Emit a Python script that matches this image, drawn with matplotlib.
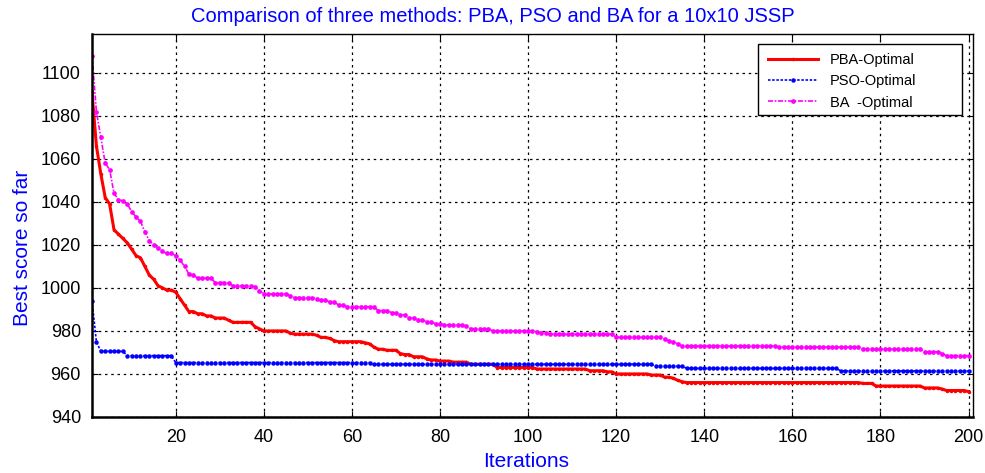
import numpy as np
import matplotlib.pyplot as plt
from matplotlib.patches import Rectangle

# --- DATA (step change points: iteration -> best score) ---
ITERATIONS = np.arange(1, 201)

pba_change_iter = [1, 2, 3, 4, 5, 6, 7, 8, 9, 10, 11, 12, 13, 14, 15, 16, 17, 18, 20, 21,
                   22, 23, 25, 27, 29, 32, 33, 38, 39, 40, 46, 47, 52, 53, 55, 56, 57, 63,
                   64, 65, 66, 68, 71, 72, 74, 77, 78, 80, 83, 87, 93, 102, 114, 118, 120,
                   128, 131, 133, 134, 135, 136, 176, 179, 190, 194, 195, 200]
pba_change_val = [1091, 1066, 1053, 1042, 1039, 1027, 1025, 1023, 1021, 1018, 1015, 1014,
                  1010, 1006, 1004, 1001, 1000, 999, 998, 995, 992, 989, 988, 987, 986,
                  985, 984, 982, 981, 980, 979, 978.5, 978, 977, 976.5, 975.5, 975, 974.5,
                  974, 972.5, 971.5, 971, 969.5, 969, 968, 967, 966.5, 966, 965.5, 964.5,
                  963, 962.3, 961.5, 961, 960, 959.5, 958.5, 958, 957, 956.4, 956, 955.6,
                  954.4, 953.5, 953, 952.3, 951.8]

pso_change_iter = [1, 2, 3, 9, 20, 65, 129, 136, 171]
pso_change_val = [994, 975, 970.5, 968.5, 965.3, 964.5, 963.6, 962.6, 961.4]

ba_change_iter = [1, 2, 3, 4, 5, 6, 7, 8, 9, 10, 11, 12, 13, 14, 15, 16, 17, 18, 20, 21,
                  22, 23, 24, 25, 28, 29, 32, 33, 38, 39, 40, 46, 47, 52, 53, 55, 57, 59,
                  65, 66, 69, 71, 73, 75, 77, 79, 81, 86, 87, 92, 102, 103, 105, 120, 131,
                  132, 133, 134, 135, 157, 176, 190, 194, 195]
ba_change_val = [1108, 1082, 1070, 1058, 1055, 1044, 1041, 1040.5, 1039, 1035.5, 1033,
                 1031, 1026, 1022, 1020, 1018.5, 1017, 1016, 1015, 1013, 1010, 1006.5,
                 1006, 1004.5, 1004.5, 1002.5, 1002.2, 1001, 1000.6, 998.7, 997.2, 996.4,
                 995.5, 995, 994.2, 993.5, 992, 991.3, 991, 989.5, 988.5, 987.5, 986,
                 985, 984.3, 983.3, 982.8, 982.3, 981, 980, 979.7, 979.2, 978.5, 977,
                 976.2, 975.5, 975, 974, 973, 972.5, 971.5, 970.3, 969.5, 968.5]

SERIES_LABELS = ['PBA-Optimal', 'PSO-Optimal', 'BA  -Optimal']
Y_TICKS = [940, 960, 980, 1000, 1020, 1040, 1060, 1080, 1100]
X_TICKS = [20, 40, 60, 80, 100, 120, 140, 160, 180, 200]


def hold_steps(change_iter, change_val):
    """Hold each read value until the next change point."""
    idx = np.searchsorted(change_iter, ITERATIONS, side='right') - 1
    return np.asarray(change_val)[idx]


pba = hold_steps(pba_change_iter, pba_change_val)
pso = hold_steps(pso_change_iter, pso_change_val)
ba = hold_steps(ba_change_iter, ba_change_val)

plt.rcParams['font.family'] = ['Liberation Sans', 'DejaVu Sans']

fig = plt.figure(figsize=(9.85, 4.73), dpi=100)
ax = fig.add_axes([0.0934, 0.1184, 0.8944, 0.8096])

ax.plot(ITERATIONS, pba, color='red', lw=2.2, marker='.', ms=3, label=SERIES_LABELS[0])
ax.plot(ITERATIONS, pso, color='blue', lw=1.2, ls=(0, (1.5, 1)), marker='o', ms=3.2,
        mew=0, label=SERIES_LABELS[1])
ax.plot(ITERATIONS, ba, color='magenta', lw=1.2, ls=(0, (3, 1, 1, 1)), marker='o', ms=3.4,
        mew=0, label=SERIES_LABELS[2])

ax.set_xlim(1, 201)
ax.set_ylim(940, 1118)
ax.set_xticks(X_TICKS)
ax.set_yticks(Y_TICKS)
ax.tick_params(direction='in', top=True, right=True, length=4, labelsize=13)
ax.tick_params(axis='x', pad=9)
ax.tick_params(axis='y', pad=8)
ax.grid(True, color='black', ls=(0, (2, 3)), lw=0.9)
for side in ['left', 'bottom']:
    ax.spines[side].set_linewidth(1.8)
for side in ['top', 'right']:
    ax.spines[side].set_linewidth(1.0)

# title is centred on the figure, not the axes
fig.text(0.5, 1 - 17 / 473, 'Comparison of three methods: PBA, PSO and BA for a 10x10 JSSP',
         color='blue', fontsize=14.5, ha='center', va='center')
ax.set_xlabel('Iterations', color='blue', fontsize=15)
ax.xaxis.set_label_coords(0.493, -0.091)
ax.set_ylabel('Best score so far', color='blue', fontsize=15)
ax.yaxis.set_label_coords(-0.068, 0.441)

# legend entries without frame, plus a wide MATLAB-like box behind them
leg = ax.legend(loc='upper left', bbox_to_anchor=(768 / 985, 1 - 53 / 473),
                bbox_transform=fig.transFigure, fontsize=10.5, frameon=False,
                handlelength=3.43, handletextpad=0.82, borderpad=0, labelspacing=0.5,
                borderaxespad=0)
leg.set_zorder(6)
box = Rectangle((758 / 985, 1 - 115 / 473), 204 / 985, 71 / 473, transform=fig.transFigure,
                facecolor='white', edgecolor='black', lw=1.0, zorder=5)
ax.add_artist(box)
box.set_clip_on(False)

fig.savefig('out.png', dpi=100)
